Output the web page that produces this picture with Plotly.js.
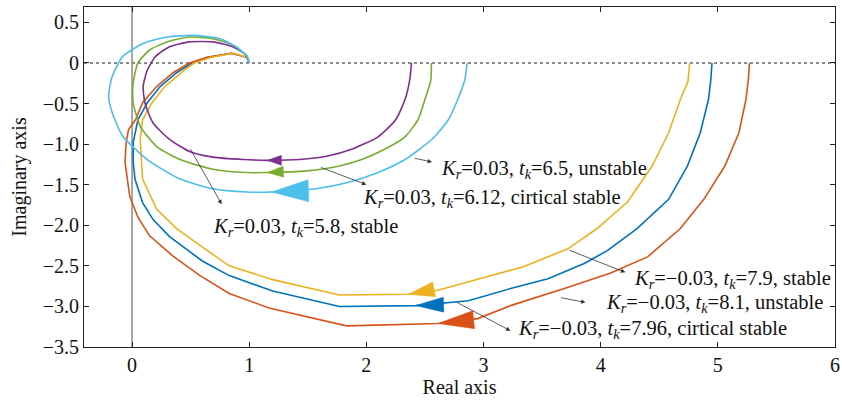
<!DOCTYPE html>
<html>
<head>
<meta charset="utf-8">
<script src="https://cdn.plot.ly/plotly-3.0.1.min.js"></script>
<style>html,body{margin:0;padding:0;background:#fff;}#chart{width:842px;height:402px;}</style>
</head>
<body>
<div id="chart"></div>
<script>
// ---------------- DATA ----------------
const xTickVals = [0, 1, 2, 3, 4, 5, 6];
const xTickText = ['0', '1', '2', '3', '4', '5', '6'];
const yTickVals = [0.5, 0, -0.5, -1.0, -1.5, -2.0, -2.5, -3.0, -3.5];
const yTickText = ['0.5', '0', '\u22120.5', '\u22121.0', '\u22121.5', '\u22122.0', '\u22122.5', '\u22123.0', '\u22123.5'];

// Kr=0.03, tk=6.5, unstable (purple)
const purpleX = [2.385, 2.37, 2.33, 2.25, 2.10, 1.88, 1.66, 1.43, 1.15, 0.95, 0.69, 0.49, 0.32, 0.18, 0.11, 0.095, 0.13, 0.20, 0.32, 0.49, 0.69, 0.86, 0.97, 1.0];
const purpleY = [0, -0.21, -0.45, -0.70, -0.91, -1.06, -1.15, -1.19, -1.20, -1.19, -1.16, -1.09, -0.94, -0.74, -0.49, -0.29, -0.09, 0.08, 0.20, 0.26, 0.26, 0.20, 0.10, 0];
// Kr=0.03, tk=6.12, critical stable (green)
const greenX = [2.555, 2.55, 2.50, 2.44, 2.33, 2.16, 1.96, 1.77, 1.49, 1.15, 0.98, 0.69, 0.41, 0.21, 0.07, 0.01, 0.01, 0.05, 0.15, 0.30, 0.49, 0.69, 0.86, 0.97, 1.0];
const greenY = [0, -0.21, -0.45, -0.70, -0.91, -1.06, -1.19, -1.27, -1.33, -1.35, -1.35, -1.31, -1.19, -1.03, -0.78, -0.49, -0.25, 0, 0.16, 0.26, 0.32, 0.30, 0.22, 0.10, 0];
// Kr=0.03, tk=5.8, stable (cyan)
const cyanX = [2.86, 2.84, 2.78, 2.70, 2.56, 2.33, 2.10, 1.85, 1.57, 1.19, 0.98, 0.69, 0.41, 0.13, -0.08, -0.17, -0.20, -0.17, -0.08, 0.095, 0.30, 0.52, 0.75, 0.89, 0.985, 1.0];
const cyanY = [0, -0.21, -0.45, -0.70, -0.94, -1.19, -1.35, -1.47, -1.55, -1.59, -1.59, -1.55, -1.43, -1.19, -0.90, -0.61, -0.41, -0.17, 0.08, 0.24, 0.32, 0.34, 0.30, 0.20, 0.08, 0];
// Kr=-0.03, tk=7.9, stable (yellow)
const yellowX = [4.76, 4.745, 4.68, 4.58, 4.44, 4.23, 3.97, 3.72, 3.34, 2.95, 2.61, 2.36, 1.77, 1.20, 0.83, 0.64, 0.38, 0.21, 0.13, 0.09, 0.08, 0.07, 0.09, 0.17, 0.28, 0.42, 0.53, 0.68, 0.87, 0.98, 1.0];
const yellowY = [0, -0.23, -0.45, -0.86, -1.27, -1.71, -2.04, -2.29, -2.51, -2.66, -2.80, -2.85, -2.86, -2.67, -2.50, -2.31, -2.04, -1.80, -1.55, -1.43, -1.19, -0.94, -0.70, -0.49, -0.29, -0.12, 0, 0.07, 0.12, 0.07, 0];
// Kr=-0.03, tk=8.1, unstable (blue)
const blueX = [4.95, 4.94, 4.92, 4.85, 4.74, 4.58, 4.31, 4.06, 3.86, 3.55, 3.23, 2.87, 2.42, 1.77, 1.20, 0.83, 0.60, 0.32, 0.18, 0.09, 0.025, 0.01, 0.01, 0.05, 0.13, 0.24, 0.38, 0.51, 0.65, 0.85, 0.98, 1.0];
const blueY = [0, -0.21, -0.45, -0.86, -1.27, -1.68, -2.04, -2.31, -2.47, -2.66, -2.78, -2.93, -2.99, -3.00, -2.81, -2.62, -2.44, -2.14, -1.93, -1.72, -1.43, -1.22, -0.98, -0.70, -0.49, -0.29, -0.12, 0, 0.07, 0.12, 0.07, 0];
// Kr=-0.03, tk=7.96, critical stable (red)
const redX = [5.27, 5.26, 5.24, 5.18, 5.06, 4.88, 4.68, 4.40, 4.08, 3.69, 3.23, 2.95, 2.61, 1.83, 1.17, 0.83, 0.58, 0.35, 0.15, 0.05, -0.02, -0.04, -0.06, -0.05, -0.03, 0.03, 0.09, 0.21, 0.35, 0.49, 0.64, 0.85, 0.98, 1.0];
const redY = [0, -0.21, -0.45, -0.86, -1.27, -1.68, -2.04, -2.39, -2.59, -2.78, -2.99, -3.15, -3.21, -3.24, -3.02, -2.84, -2.62, -2.38, -2.13, -1.90, -1.64, -1.43, -1.22, -0.98, -0.82, -0.70, -0.49, -0.29, -0.12, 0, 0.07, 0.12, 0.07, 0];

// direction-arrow tip positions (data)
const arrowTipX = {purple: 1.155, green: 1.155, cyan: 1.19, yellow: 2.36, blue: 2.42, red: 2.61};
const arrowTipY = {purple: -1.20, green: -1.35, cyan: -1.59, yellow: -2.85, blue: -2.99, red: -3.21};

// ---------------- STYLE ----------------
const colors = {blue: '#0072BD', red: '#D95319', yellow: '#EDB120', purple: '#7E2F8E', green: '#77AC30', cyan: '#4DBEEE'};
const arrowStyle = {
  purple: {len: 14, hw: 5, ang: 0},
  green: {len: 16, hw: 5.5, ang: 3},
  cyan: {len: 37, hw: 11, ang: 2},
  yellow: {len: 26, hw: 7.5, ang: 11},
  blue: {len: 28, hw: 7.5, ang: 2},
  red: {len: 36, hw: 9, ang: 6}
};
const W = 842, H = 402;
const M = {l: 84, r: 7, t: 7, b: 55};
const xRange = [-0.41, 6], yRange = [-3.5, 0.69];
const pw = W - M.l - M.r, ph = H - M.t - M.b;
const kx = (xRange[1] - xRange[0]) / pw, ky = (yRange[1] - yRange[0]) / ph;
const FONT = '"Liberation Serif", "Times New Roman", serif';

function triangle(tx, ty, st) {
  const a = st.ang * Math.PI / 180;
  const ux = Math.cos(a), uy = -Math.sin(a);   // screen unit vector tip->base
  const qx = -uy, qy = ux;                      // perpendicular
  const bx = st.len * ux, by = st.len * uy;
  const pts = [[0, 0], [bx + st.hw * qx, by + st.hw * qy], [bx - st.hw * qx, by - st.hw * qy], [0, 0]];
  return {x: pts.map(p => tx + p[0] * kx), y: pts.map(p => ty - p[1] * ky)};
}

const series = [
  {k: 'blue', x: blueX, y: blueY, shape: 'linear'},
  {k: 'red', x: redX, y: redY, shape: 'linear'},
  {k: 'yellow', x: yellowX, y: yellowY, shape: 'linear'},
  {k: 'purple', x: purpleX, y: purpleY, shape: 'spline'},
  {k: 'green', x: greenX, y: greenY, shape: 'spline'},
  {k: 'cyan', x: cyanX, y: cyanY, shape: 'spline'}
];

const traces = [];
series.forEach(s => {
  traces.push({x: s.x, y: s.y, type: 'scatter', mode: 'lines',
    line: {color: colors[s.k], width: 1.6, shape: s.shape, smoothing: 0.6},
    hoverinfo: 'skip', showlegend: false});
});
series.forEach(s => {
  const t = triangle(arrowTipX[s.k], arrowTipY[s.k], arrowStyle[s.k]);
  traces.push({x: t.x, y: t.y, type: 'scatter', mode: 'lines', fill: 'toself',
    fillcolor: colors[s.k], line: {color: colors[s.k], width: 0.5},
    hoverinfo: 'skip', showlegend: false});
});

const labels = [
  {t: '<i>K</i><sub><i>r</i></sub>=0.03, <i>t</i><sub><i>k</i></sub>=6.5, unstable', x: 2.62, y: -1.315, tx: 2.40, ty: -1.17, hx: 2.56, hy: -1.22},
  {t: '<i>K</i><sub><i>r</i></sub>=0.03, <i>t</i><sub><i>k</i></sub>=6.12, cirtical stable', x: 1.95, y: -1.67, tx: 1.60, ty: -1.28, hx: 2.0, hy: -1.50},
  {t: '<i>K</i><sub><i>r</i></sub>=0.03, <i>t</i><sub><i>k</i></sub>=5.8, stable', x: 0.675, y: -2.03, tx: 0.49, ty: -1.04, hx: 0.765, hy: -1.74},
  {t: '<i>K</i><sub><i>r</i></sub>=\u22120.03, <i>t</i><sub><i>k</i></sub>=7.9, stable', x: 4.265, y: -2.67, tx: 3.72, ty: -2.30, hx: 4.21, hy: -2.58},
  {t: '<i>K</i><sub><i>r</i></sub>=\u22120.03, <i>t</i><sub><i>k</i></sub>=8.1, unstable', x: 4.03, y: -2.97, tx: 3.65, ty: -2.89, hx: 3.87, hy: -2.95},
  {t: '<i>K</i><sub><i>r</i></sub>=\u22120.03, <i>t</i><sub><i>k</i></sub>=7.96, cirtical stable', x: 3.275, y: -3.28, tx: 2.76, ty: -2.94, hx: 3.23, hy: -3.30}
];
const annotations = [];
labels.forEach(l => {
  annotations.push({x: l.hx, y: l.hy, xref: 'x', yref: 'y', ax: l.tx, ay: l.ty, axref: 'x', ayref: 'y',
    text: '', showarrow: true, arrowhead: 2, arrowsize: 1.1, arrowwidth: 0.8, arrowcolor: '#333'});
  annotations.push({x: l.x, y: l.y, xref: 'x', yref: 'y', text: l.t, showarrow: false,
    xanchor: 'left', yanchor: 'middle', font: {family: FONT, size: 20.5, color: '#111'}});
});

const layout = {
  width: W, height: H,
  margin: {l: M.l, r: M.r, t: M.t, b: M.b, pad: 0},
  paper_bgcolor: '#fff', plot_bgcolor: '#fff',
  font: {family: FONT, size: 20, color: '#111'},
  xaxis: {range: xRange, tickmode: 'array', tickvals: xTickVals, ticktext: xTickText,
    ticks: 'inside', ticklen: 5, tickcolor: '#222', showline: true, linecolor: '#222', linewidth: 1,
    mirror: 'ticks', showgrid: false, zeroline: false, automargin: false,
    tickfont: {family: FONT, size: 20, color: '#111'},
    title: {text: 'Real axis', font: {family: FONT, size: 20, color: '#111'}, standoff: 4}},
  yaxis: {range: yRange, tickmode: 'array', tickvals: yTickVals, ticktext: yTickText,
    ticks: 'inside', ticklen: 5, tickcolor: '#222', showline: true, linecolor: '#222', linewidth: 1,
    mirror: 'ticks', showgrid: false, zeroline: false, automargin: false,
    tickfont: {family: FONT, size: 20, color: '#111'},
    title: {text: 'Imaginary axis', font: {family: FONT, size: 20, color: '#111'}, standoff: 10}},
  shapes: [
    {type: 'line', xref: 'paper', yref: 'y', x0: 0, x1: 1, y0: 0, y1: 0, layer: 'below',
      line: {color: '#8a8a8a', width: 2, dash: 'dot'}},
    {type: 'line', xref: 'x', yref: 'paper', x0: 0, x1: 0, y0: 0, y1: 1, layer: 'below',
      line: {color: '#8a8a8a', width: 1.5}}
  ],
  annotations: annotations
};

Plotly.newPlot('chart', traces, layout, {displayModeBar: false, staticPlot: true});
</script>
</body>
</html>
